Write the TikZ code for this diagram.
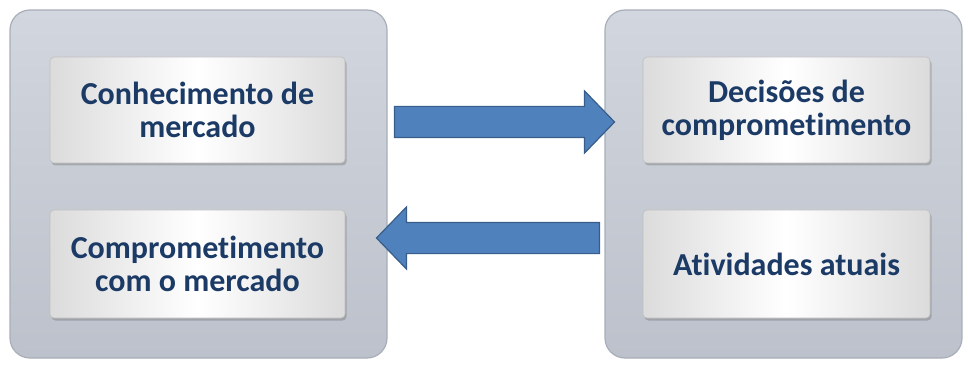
\documentclass[tikz,border=0pt]{standalone}
\usepackage{fontspec}
\setmainfont[Ligatures=NoCommon]{Carlito}
\usetikzlibrary{shapes.arrows,shadows,positioning}
\definecolor{txtblue}{HTML}{1B3A66}
\definecolor{arrfill}{HTML}{4F81BD}
\definecolor{arrline}{HTML}{385D8A}
\definecolor{bigtop}{HTML}{D2D6DE}
\definecolor{bigbot}{HTML}{BCC1CB}
\definecolor{bigline}{HTML}{A8AEB8}
\tikzset{
  x=1pt,y=1pt,
  bigbox/.style={rounded corners=20pt, top color=bigtop, bottom color=bigbot, draw=bigline, line width=1.2pt, inner sep=0pt},
  innerbox/.style={rounded corners=4pt, left color=black!14, right color=black!14, middle color=white, draw=black!25, line width=0.6pt,
     drop shadow={shadow xshift=1.5pt, shadow yshift=-2.5pt, opacity=0.35, fill=black!60}, inner sep=0pt,
     align=center, font=\fontsize{32}{33}\selectfont\bfseries, text=txtblue},
  bigarrow/.style={single arrow, fill=arrfill, draw=arrline, line width=1.2pt, inner xsep=0pt, inner ysep=15pt,
     text height=0pt, text depth=0pt, single arrow head extend=15.5pt, single arrow tip angle=92, single arrow head indent=0pt}
}
\begin{document}
\begin{tikzpicture}
\useasboundingbox (0,0) rectangle (968,367);
\node[bigbox, minimum width=377pt, minimum height=348pt] (L) at (198.5,183) {};
\node[bigbox, minimum width=357pt, minimum height=348pt] (R) at (783.5,183) {};
\node[innerbox, minimum width=295pt, minimum height=106pt] (LT) at (197.5,257) {Conhecimento de\\mercado};
\node[innerbox, minimum width=295pt, minimum height=108pt] (LB) at (197.5,103) {Comprometimento\\com o mercado};
\node[innerbox, minimum width=287pt, minimum height=106pt] (RT) at (786.5,257) {Decisões de\\comprometimento};
\node[innerbox, minimum width=287pt, minimum height=108pt] (RB) at (786.5,103) {Atividades atuais};
\node[bigarrow, minimum height=220pt] (A1) at (497,245) {};
\node[bigarrow, minimum height=223pt, shape border rotate=180] (A2) at (495.5,129) {};
\end{tikzpicture}
\end{document}
